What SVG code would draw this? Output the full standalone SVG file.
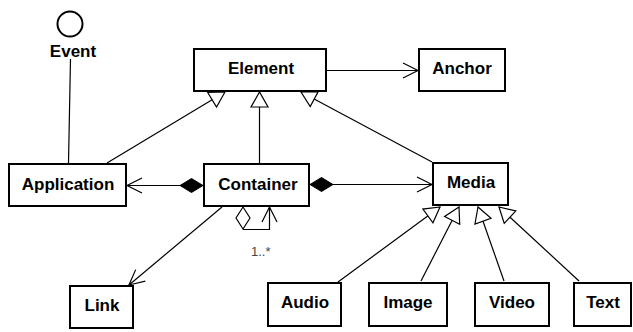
<svg xmlns="http://www.w3.org/2000/svg" width="633" height="332" viewBox="0 0 633 332">
  <style>
    .box { fill: #fff; stroke: #000; stroke-width: 2; }
    .lbl { font-family: "Liberation Sans", Arial, sans-serif; font-weight: bold; font-size: 17px; fill: #000; text-anchor: middle; }
    .mult { font-family: "Liberation Sans", Arial, sans-serif; font-size: 13px; fill: #444; }
    .edge { fill: none; stroke: #000; stroke-width: 1.2; }
    .gen { marker-end: url(#hollowTri); }
    .nav { marker-end: url(#openArrow); }
    .comp { marker-start: url(#filledDiamond); }
  </style>
  <defs>
    <!-- generalization: hollow triangle, tip on the parent -->
    <marker id="hollowTri" markerUnits="userSpaceOnUse" viewBox="-17 -10 19 20" refX="0" refY="0" markerWidth="19" markerHeight="20" orient="auto" overflow="visible">
      <path d="M0,0 L-15,-8.5 L-15,8.5 Z" fill="#fff" stroke="#000" stroke-width="1.2"/>
    </marker>
    <!-- navigability: open arrowhead -->
    <marker id="openArrow" markerUnits="userSpaceOnUse" viewBox="-17 -10 19 20" refX="0" refY="0" markerWidth="19" markerHeight="20" orient="auto" overflow="visible">
      <path d="M-15,-7.5 L0,0 L-15,7.5" fill="none" stroke="#000" stroke-width="1.2"/>
    </marker>
    <!-- composition: filled diamond on the whole side -->
    <marker id="filledDiamond" markerUnits="userSpaceOnUse" viewBox="-1 -8 25 16" refX="0" refY="0" markerWidth="25" markerHeight="16" orient="auto" overflow="visible">
      <path d="M0,0 L11.5,-7 L23,0 L11.5,7 Z" fill="#000" stroke="#000" stroke-width="1"/>
    </marker>
  </defs>

  <!-- connectors -->
  <g id="connectors">
    <!-- Event interface lollipop -->
    <line class="edge" x1="70.5" y1="59" x2="68.5" y2="163"/>
    <!-- generalizations to Element -->
    <line class="edge gen" x1="107" y1="163" x2="225" y2="92"/>
    <line class="edge gen" x1="259.5" y1="163" x2="259.5" y2="92"/>
    <line class="edge gen" x1="432" y1="162" x2="301" y2="92"/>
    <!-- generalizations to Media -->
    <line class="edge gen" x1="338" y1="282" x2="440" y2="207"/>
    <line class="edge gen" x1="421" y1="281" x2="459" y2="207"/>
    <line class="edge gen" x1="504" y1="281" x2="478" y2="207"/>
    <line class="edge gen" x1="579" y1="281" x2="499" y2="207"/>
    <!-- associations -->
    <line class="edge nav" x1="327" y1="70.5" x2="418" y2="70.5"/>
    <line class="edge comp nav" x1="203" y1="185.5" x2="127" y2="185.5"/>
    <line class="edge comp nav" x1="310" y1="184.5" x2="432" y2="184.5"/>
    <line class="edge nav" x1="222" y1="207" x2="129" y2="285"/>
    <!-- Container self-aggregation -->
    <path d="M243,207 L250,218 L243,229 L236,218 Z" fill="#fff" stroke="#000" stroke-width="1.2"/>
    <path class="edge nav" d="M243,229.5 L269.5,229.5 L269.5,207"/>
    <text class="mult" x="251" y="256">1..*</text>
  </g>

  <g id="event">
    <circle cx="70" cy="24" r="12.5" fill="none" stroke="#000" stroke-width="2"/>
    <text class="lbl" x="73" y="57">Event</text>
  </g>
  <g id="element">
    <rect class="box" x="194" y="49" width="132" height="42"/>
    <text class="lbl" x="261" y="73.5">Element</text>
  </g>
  <g id="anchor">
    <rect class="box" x="419" y="49" width="86" height="42"/>
    <text class="lbl" x="462" y="73.5">Anchor</text>
  </g>
  <g id="application">
    <rect class="box" x="9" y="164" width="117" height="42"/>
    <text class="lbl" x="68" y="189.5">Application</text>
  </g>
  <g id="container">
    <rect class="box" x="204" y="164" width="105" height="42"/>
    <text class="lbl" x="258" y="189.5">Container</text>
  </g>
  <g id="media">
    <rect class="box" x="433" y="163" width="75" height="42"/>
    <text class="lbl" x="471" y="188">Media</text>
  </g>
  <g id="link">
    <rect class="box" x="70" y="286" width="63" height="42"/>
    <text class="lbl" x="102" y="311">Link</text>
  </g>
  <g id="audio">
    <rect class="box" x="268" y="283" width="73" height="43"/>
    <text class="lbl" x="305" y="307.5">Audio</text>
  </g>
  <g id="image">
    <rect class="box" x="369" y="283" width="78" height="43"/>
    <text class="lbl" x="408" y="307.5">Image</text>
  </g>
  <g id="video">
    <rect class="box" x="475" y="283" width="74" height="43"/>
    <text class="lbl" x="512" y="307.5">Video</text>
  </g>
  <g id="text">
    <rect class="box" x="574" y="283" width="57" height="43"/>
    <text class="lbl" x="603" y="307.5">Text</text>
  </g>
</svg>
